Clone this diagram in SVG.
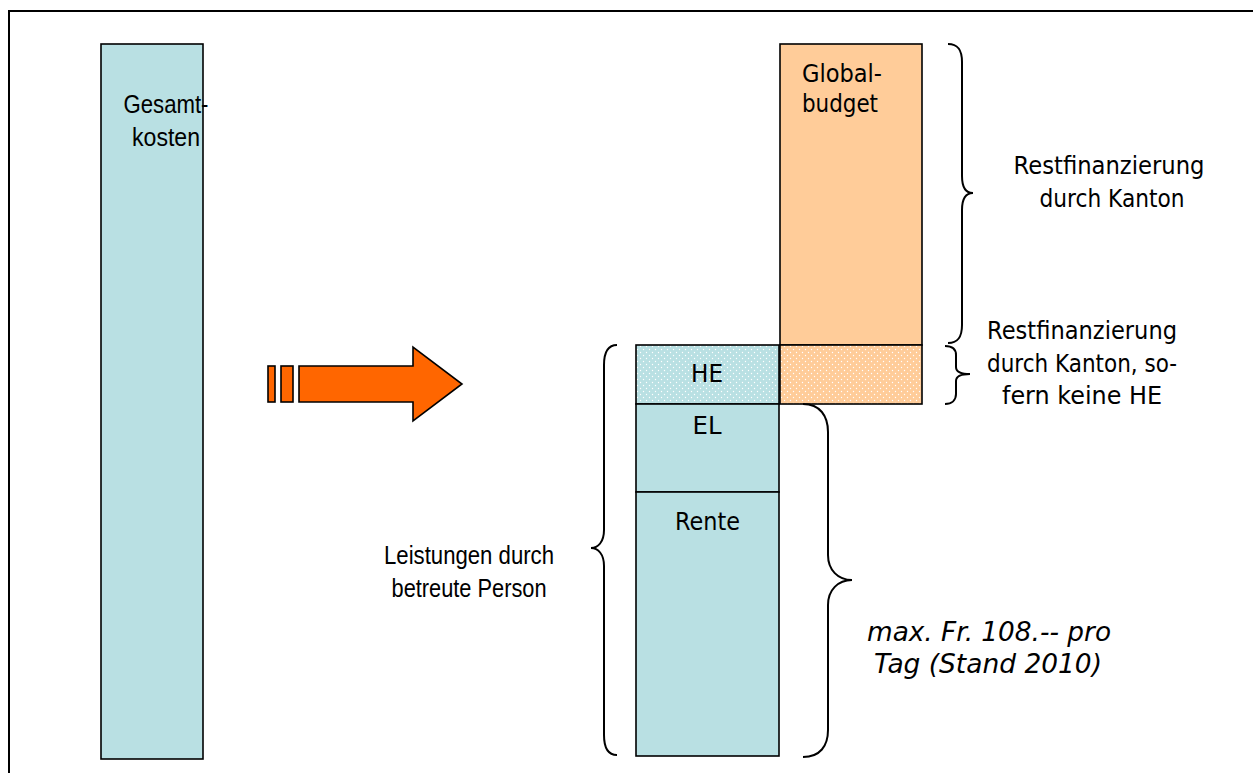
<svg xmlns="http://www.w3.org/2000/svg" width="1253" height="773" viewBox="0 0 1253 773">
<style>
.t{font-family:"DejaVu Sans","Liberation Sans",Arial,sans-serif;font-size:22px;fill:#000}
.s{font-family:"Liberation Sans",Arial,sans-serif;font-size:22px}
.l{font-size:23px}
.c{text-anchor:middle}
.i{font-style:italic}
.box{stroke:#000;stroke-width:1.6}
.br{fill:none;stroke:#000;stroke-width:2}
.blue{fill:#B9E0E3}
.org{fill:#FFCC99}
.ar{fill:#FF6600;stroke:#000;stroke-width:1.6;stroke-linejoin:miter}
</style>
<defs>
<pattern id="dotsB" width="6" height="6" patternUnits="userSpaceOnUse">
<rect width="6" height="6" fill="#B9E0E3"/>
<circle cx="1.5" cy="1.5" r="0.7" fill="#fff"/>
<circle cx="4.5" cy="4.5" r="0.7" fill="#fff"/>
</pattern>
<pattern id="dotsO" width="6" height="6" patternUnits="userSpaceOnUse">
<rect width="6" height="6" fill="#FFCC99"/>
<circle cx="1.5" cy="1.5" r="0.7" fill="#fff"/>
<circle cx="4.5" cy="4.5" r="0.7" fill="#fff"/>
</pattern>
</defs>
<rect width="1253" height="773" fill="#fff"/>
<path d="M9 780 V11 H1260" fill="none" stroke="#000" stroke-width="2"/>

<g id="gesamtkosten">
<rect class="box blue" x="101" y="44" width="102" height="715"/>
<text class="t s c" transform="translate(166 112.5) scale(1 1.15)" textLength="85" lengthAdjust="spacingAndGlyphs">Gesamt-</text>
<text class="t s c" transform="translate(166 145.5) scale(1 1.15)" textLength="68" lengthAdjust="spacingAndGlyphs">kosten</text>
</g>

<g id="arrow">
<rect class="ar" x="268" y="366" width="7" height="36"/>
<rect class="ar" x="281" y="366" width="12" height="36"/>
<path class="ar" d="M299 366 H413 V347 L462 384 L413 421 V402 H299 Z"/>
</g>

<g id="globalbudget">
<rect class="box org" x="780" y="44" width="142" height="301"/>
<text class="t" transform="translate(802 82) scale(1 1.15)" textLength="80" lengthAdjust="spacingAndGlyphs">Global-</text>
<text class="t" transform="translate(802 112) scale(1 1.15)" textLength="76" lengthAdjust="spacingAndGlyphs">budget</text>
</g>

<g id="orange-he">
<rect class="box" fill="url(#dotsO)" x="780" y="345" width="142" height="59"/>
</g>

<g id="he">
<rect class="box" fill="url(#dotsB)" x="636" y="345" width="143" height="59"/>
<text class="t c" transform="translate(707 382) scale(1 1.15)" textLength="32" lengthAdjust="spacingAndGlyphs">HE</text>
</g>

<g id="el">
<rect class="box blue" x="636" y="404" width="143" height="88"/>
<text class="t c" transform="translate(707 434) scale(1 1.15)" textLength="29" lengthAdjust="spacingAndGlyphs">EL</text>
</g>

<g id="rente">
<rect class="box blue" x="636" y="492" width="143" height="264"/>
<text class="t c" transform="translate(707.5 530) scale(1 1.15)" textLength="65" lengthAdjust="spacingAndGlyphs">Rente</text>
</g>

<g id="connectors">
<path class="br" d="M948 44 C958 44 962 50 962 62 V176 C962 188 966 193 973 193 C966 193 962 198 962 210 V325 C962 337 958 343 948 343"/>
<path class="br" d="M945 346 C952 346 956 349 956 355 V367 C956 372 962 374 970 374 C962 374 956 376 956 381 V394 C956 400 952 404 945 404"/>
<path class="br" d="M617 345 C608 345 604 352 604 365 V530 C604 542 598 548 591 548 C598 548 604 554 604 566 V735 C604 748 608 755 617 755"/>
<path class="br" d="M803 404 C820 404 828 416 828 432 V555 C828 570 838 580 852 580 C838 580 828 590 828 605 V730 C828 746 820 757 803 757"/>
</g>

<g id="labels">
<text class="t c" transform="translate(1109 173.5) scale(1 1.15)" textLength="191" lengthAdjust="spacingAndGlyphs">Restfinanzierung</text>
<text class="t c" transform="translate(1112 206.5) scale(1 1.15)" textLength="145" lengthAdjust="spacingAndGlyphs">durch Kanton</text>
<text class="t c" transform="translate(1082 338.5) scale(1 1.15)" textLength="190" lengthAdjust="spacingAndGlyphs">Restfinanzierung</text>
<text class="t c" transform="translate(1082 371.5) scale(1 1.15)" textLength="190" lengthAdjust="spacingAndGlyphs">durch Kanton, so-</text>
<text class="t c" transform="translate(1082 403.5) scale(1 1.15)" textLength="160" lengthAdjust="spacingAndGlyphs">fern keine HE</text>
<text class="t s c" transform="translate(469 563.5) scale(1 1.15)" textLength="170" lengthAdjust="spacingAndGlyphs">Leistungen durch</text>
<text class="t s c" transform="translate(469 596.5) scale(1 1.15)" textLength="155" lengthAdjust="spacingAndGlyphs">betreute Person</text>
<text class="t l c i" transform="translate(989 640.5) scale(1 1.15)" textLength="244" lengthAdjust="spacingAndGlyphs">max. Fr. 108.-- pro</text>
<text class="t l c i" transform="translate(988 672.5) scale(1 1.15)" textLength="228" lengthAdjust="spacingAndGlyphs">Tag (Stand 2010)</text>
</g>
</svg>
